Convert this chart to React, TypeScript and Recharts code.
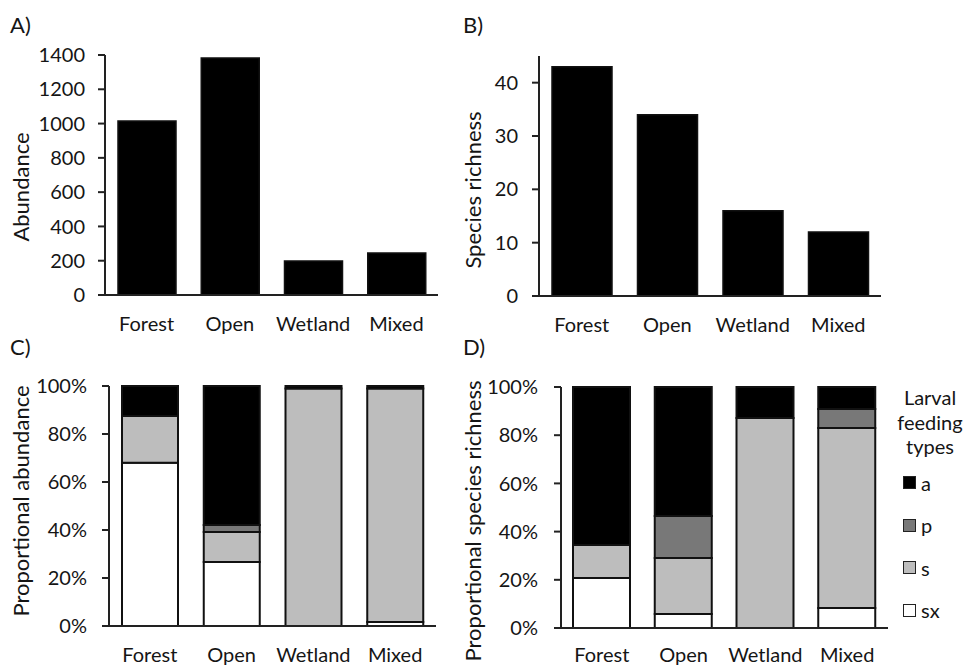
import React from "react";
import { BarChart, Bar, XAxis, YAxis, Legend } from "recharts";

const habitats = ["Forest", "Open", "Wetland", "Mixed"];

// A) total abundance, B) species richness
const abundance = [1015, 1382, 198, 245];
const richness = [43, 34, 16, 12];
const abundanceTicks = [0, 200, 400, 600, 800, 1000, 1200, 1400];
const richnessTicks = [0, 10, 20, 30, 40];
const percentTicks = [0, 20, 40, 60, 80, 100];

// C) proportional abundance per larval feeding type (%)
const abundSx = [68, 26.7, 0, 1.7];
const abundS = [19.5, 12.5, 99, 97.3];
const abundP = [0, 2.9, 0, 0];
const abundA = [12.5, 57.9, 1, 1];

// D) proportional species richness per larval feeding type (%)
const richSx = [20.7, 5.8, 0, 8.3];
const richS = [13.7, 23.2, 87.1, 74.7];
const richP = [0, 17.5, 0, 7.9];
const richA = [65.6, 53.5, 12.9, 9.1];

// stacking order bottom -> top, legend order top -> bottom
const feedTypes = ["sx", "s", "p", "a"];
const legendOrder = ["a", "p", "s", "sx"];
const feedColors: Record<string, string> = {
  sx: "#ffffff",
  s: "#bdbdbd",
  p: "#787878",
  a: "#000000",
};

const totalsData = habitats.map((h, i) => ({
  habitat: h,
  abundance: abundance[i],
  richness: richness[i],
}));
const abundPropData = habitats.map((h, i) => ({
  habitat: h,
  sx: abundSx[i],
  s: abundS[i],
  p: abundP[i],
  a: abundA[i],
}));
const richPropData = habitats.map((h, i) => ({
  habitat: h,
  sx: richSx[i],
  s: richS[i],
  p: richP[i],
  a: richA[i],
}));

const FONT = "Lato, 'Open Sans', sans-serif";
const INK = "#151515";
const tickStyle = { fill: INK, fontSize: 20, fontFamily: FONT };
const axisLineStyle = { stroke: "#222", strokeWidth: 2 };

function AxisTitle({ text, cx, cy }: { text: string; cx: number; cy: number }) {
  return (
    <text
      x={cx}
      y={cy}
      transform={`rotate(-90 ${cx} ${cy})`}
      textAnchor="middle"
      dominantBaseline="central"
      fill={INK}
      fontSize={22}
      fontFamily={FONT}
    >
      {text}
    </text>
  );
}

function FeedLegend(props: any) {
  const items = [...(props.payload || [])].sort(
    (a: any, b: any) => legendOrder.indexOf(a.value) - legendOrder.indexOf(b.value)
  );
  return (
    <div style={{ fontFamily: FONT, fontSize: 20, color: INK, width: 70 }}>
      <div style={{ textAlign: "center", lineHeight: "24.5px" }}>
        Larval
        <br />
        feeding
        <br />
        types
      </div>
      <div style={{ marginTop: 3 }}>
        {items.map((it: any) => (
          <div
            key={it.value}
            style={{ height: 42.5, display: "flex", alignItems: "center", paddingLeft: 8 }}
          >
            <span
              style={{
                width: 11,
                height: 11,
                background: it.color,
                border: "1.5px solid #222",
                display: "inline-block",
                marginRight: 5,
              }}
            />
            <span style={{ lineHeight: "20px" }}>{it.value}</span>
          </div>
        ))}
      </div>
    </div>
  );
}

function xAxisFor(margin = 22) {
  return (
    <XAxis
      dataKey="habitat"
      axisLine={axisLineStyle}
      tickLine={false}
      tickSize={0}
      tickMargin={margin}
      tick={tickStyle}
      height={30}
      interval={0}
    />
  );
}

export default function App() {
  return (
    <div
      style={{
        position: "absolute",
        left: 0,
        top: 0,
        width: 965,
        height: 666,
        background: "#fff",
        fontFamily: FONT,
      }}
    >
      {/* A) Abundance */}
      <div style={{ position: "absolute", left: 0, top: 0 }}>
        <BarChart
          width={455}
          height={340}
          data={totalsData}
          margin={{ top: 55, right: 17, bottom: 15, left: 0 }}
        >
          {xAxisFor()}
          <YAxis
            width={105}
            domain={[0, 1400]}
            ticks={abundanceTicks}
            axisLine={axisLineStyle}
            tickLine={axisLineStyle}
            tickSize={7}
            tickMargin={13}
            tick={tickStyle}
            label={<AxisTitle text="Abundance" cx={20} cy={187} />}
          />
          <Bar
            dataKey="abundance"
            fill="#000"
            stroke="#111"
            strokeWidth={1.5}
            barSize={58}
            isAnimationActive={false}
          />
        </BarChart>
      </div>

      {/* B) Species richness */}
      <div style={{ position: "absolute", left: 455, top: 0 }}>
        <BarChart
          width={510}
          height={340}
          data={totalsData}
          margin={{ top: 56, right: 84, bottom: 14, left: 0 }}
        >
          {xAxisFor()}
          <YAxis
            width={84}
            domain={[0, 45]}
            ticks={richnessTicks}
            axisLine={axisLineStyle}
            tickLine={axisLineStyle}
            tickSize={7}
            tickMargin={14}
            tick={tickStyle}
            label={<AxisTitle text="Species richness" cx={17} cy={190} />}
          />
          <Bar
            dataKey="richness"
            fill="#000"
            stroke="#111"
            strokeWidth={1.5}
            barSize={60}
            isAnimationActive={false}
          />
        </BarChart>
      </div>

      {/* C) Proportional abundance */}
      <div style={{ position: "absolute", left: 0, top: 330 }}>
        <BarChart
          width={455}
          height={336}
          data={abundPropData}
          margin={{ top: 56, right: 19, bottom: 10, left: 0 }}
        >
          {xAxisFor()}
          <YAxis
            width={109}
            domain={[0, 100]}
            ticks={percentTicks}
            tickFormatter={(v: number) => `${v}%`}
            axisLine={axisLineStyle}
            tickLine={axisLineStyle}
            tickSize={7}
            tickMargin={15}
            tick={tickStyle}
            label={<AxisTitle text="Proportional abundance" cx={20} cy={171} />}
          />
          {feedTypes.map((k) => (
            <Bar
              key={k}
              dataKey={k}
              name={k}
              stackId="c"
              fill={feedColors[k]}
              stroke="#111"
              strokeWidth={2}
              barSize={56}
              isAnimationActive={false}
            />
          ))}
        </BarChart>
      </div>

      {/* D) Proportional species richness */}
      <div style={{ position: "absolute", left: 455, top: 330 }}>
        <BarChart
          width={510}
          height={336}
          data={richPropData}
          margin={{ top: 57, right: 77, bottom: 8, left: 0 }}
        >
          {xAxisFor(20)}
          <YAxis
            width={106}
            domain={[0, 100]}
            ticks={percentTicks}
            tickFormatter={(v: number) => `${v}%`}
            axisLine={axisLineStyle}
            tickLine={axisLineStyle}
            tickSize={7}
            tickMargin={16}
            tick={tickStyle}
            label={<AxisTitle text="Proportional species richness" cx={17} cy={191} />}
          />
          {feedTypes.map((k) => (
            <Bar
              key={k}
              dataKey={k}
              name={k}
              stackId="d"
              fill={feedColors[k]}
              stroke="#111"
              strokeWidth={2}
              barSize={57}
              isAnimationActive={false}
            />
          ))}
          <Legend
            layout="vertical"
            align="center"
            verticalAlign="middle"
            content={<FeedLegend />}
            wrapperStyle={{ left: 440, top: 55, width: 70 }}
          />
        </BarChart>
      </div>

      {/* panel letters */}
      <svg
        width={965}
        height={666}
        style={{ position: "absolute", left: 0, top: 0, pointerEvents: "none" }}
      >
        {[
          ["A)", 10, 33],
          ["B)", 463, 33],
          ["C)", 10, 355],
          ["D)", 463, 355],
        ].map(([t, x, y]) => (
          <text key={t as string} x={x as number} y={y as number} fontSize={22} fontFamily={FONT} fill={INK}>
            {t}
          </text>
        ))}
      </svg>
    </div>
  );
}
